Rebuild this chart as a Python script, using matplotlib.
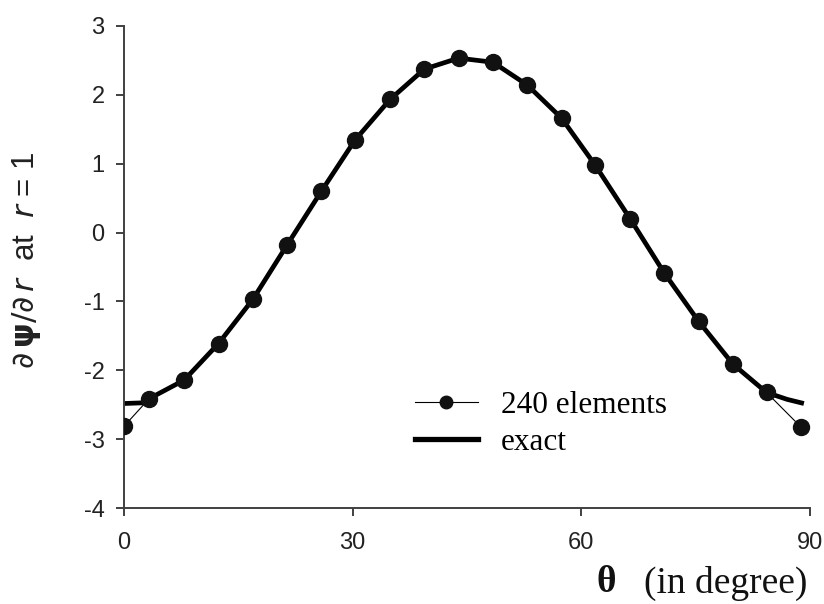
import matplotlib
matplotlib.use("Agg")
import matplotlib.pyplot as plt
from matplotlib.lines import Line2D

# Data
theta_num = [0, 3.3, 7.9, 12.4, 16.9, 21.4, 25.9, 30.3, 34.9, 39.4, 43.9,
             48.4, 52.9, 57.4, 61.8, 66.4, 70.9, 75.4, 79.9, 84.3, 88.8]
dpsi_num = [-2.81, -2.41, -2.14, -1.61, -0.97, -0.18, 0.60, 1.34, 1.93, 2.37, 2.53,
            2.47, 2.14, 1.66, 0.98, 0.20, -0.59, -1.29, -1.91, -2.32, -2.82]

theta_exact = [0, 2.5, 3.3, 7.9, 12.4, 16.9, 21.4, 25.9, 30.3, 34.9, 39.4, 43.9,
               48.4, 52.9, 57.4, 61.8, 66.4, 70.9, 75.4, 79.9, 84.3, 87.0, 89.2]
dpsi_exact = [-2.48, -2.47, -2.41, -2.14, -1.61, -0.97, -0.18, 0.60, 1.34, 1.93, 2.37, 2.53,
              2.47, 2.14, 1.66, 0.98, 0.20, -0.59, -1.29, -1.91, -2.32, -2.42, -2.48]

x_ticks = [0, 30, 60, 90]
y_ticks = [-4, -3, -2, -1, 0, 1, 2, 3]

W, H = 824, 604
fig = plt.figure(figsize=(W / 100, H / 100), dpi=100)
ax = fig.add_axes([124 / W, 1 - 508.3 / H, (810 - 124) / W, (508.3 - 25.7) / H])

ax.plot(theta_exact, dpsi_exact, color="black", lw=3.4, solid_capstyle="butt",
        solid_joinstyle="round", zorder=2)
ax.plot(theta_num, dpsi_num, color="black", lw=0.8, marker="o", markersize=11.5,
        markerfacecolor="#111111", markeredgecolor="#111111", zorder=3)

ax.set_xlim(0, 90)
ax.set_ylim(-4, 3)
ax.set_xticks(x_ticks)
ax.set_yticks(y_ticks)
ax.set_xticklabels([str(v) for v in x_ticks], fontfamily="Liberation Sans", fontsize=17, color="#222222")
ax.set_yticklabels([str(v) for v in y_ticks], fontfamily="Liberation Sans", fontsize=17, color="#222222")
for s in ["top", "right"]:
    ax.spines[s].set_visible(False)
for s in ["left", "bottom"]:
    ax.spines[s].set_color("#404040")
    ax.spines[s].set_linewidth(1.4)
ax.tick_params(axis="both", direction="out", length=6, width=1.4, color="#404040")
ax.tick_params(axis="x", pad=11)
ax.tick_params(axis="y", pad=8)

# Axis labels
plt.rcParams["mathtext.fontset"] = "dejavusans"
fig.text(27 / W, 1 - 260 / H, r"$\partial\,\mathbf{\psi}/\partial\,r$  at  $r$ = 1",
         rotation=90, ha="center", va="center", fontsize=22.5,
         fontfamily="Liberation Sans", color="#222222")
fig.text(596 / W, 1 - 583 / H, "\u03b8", ha="left", va="center", fontsize=27,
         fontfamily="Liberation Serif", fontweight="bold", color="#111111")
fig.text(807 / W, 1 - 583 / H, "(in degree)", ha="right", va="center", fontsize=27,
         fontfamily="Liberation Serif", color="#111111")

handles = [
    Line2D([], [], color="black", lw=0.8, marker="o", markersize=9,
           markerfacecolor="#111111", markeredgecolor="#111111"),
    Line2D([], [], color="black", lw=3.8),
]
leg = ax.legend(handles, ["240 elements", "exact"], loc="upper left",
                bbox_to_anchor=(415 / W, 1 - 391 / H), bbox_transform=fig.transFigure,
                frameon=False, borderpad=0, borderaxespad=0, handlelength=2.0,
                handletextpad=0.75, labelspacing=0.25,
                prop={"family": "Liberation Serif", "size": 22.5})

fig.savefig("out.png", dpi=100)
